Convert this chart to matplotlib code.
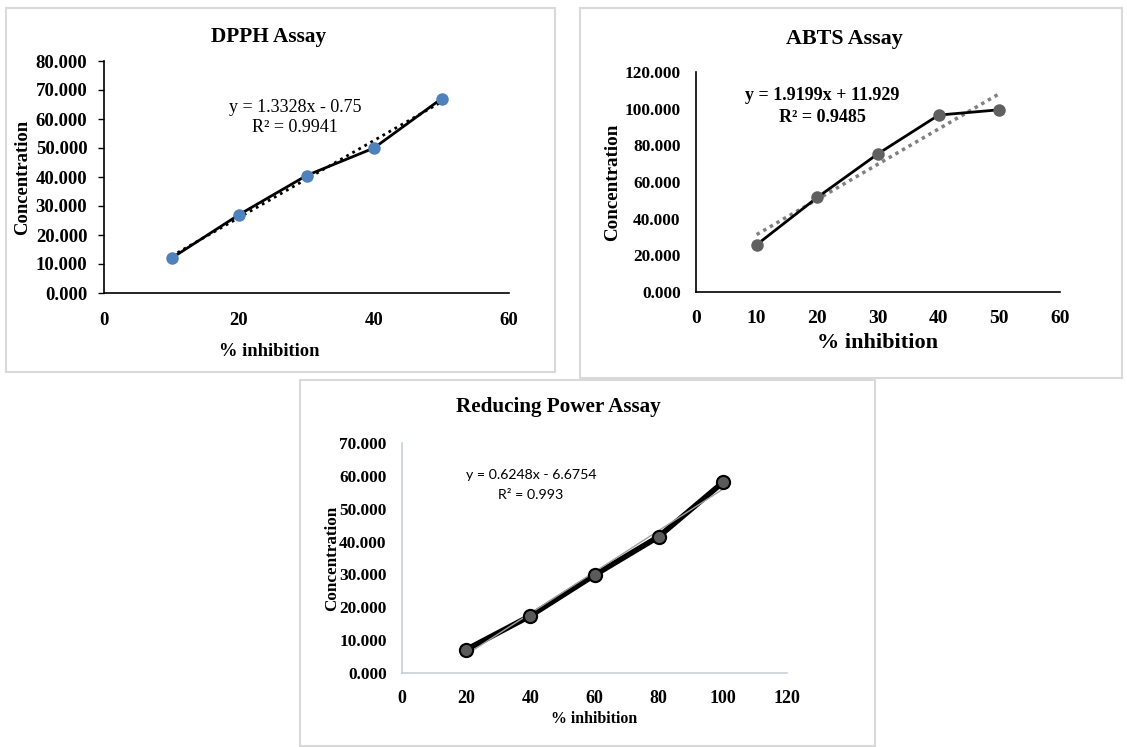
import numpy as np
import matplotlib
matplotlib.use("Agg")
import matplotlib.pyplot as plt
from matplotlib.patches import Rectangle

# ---------------- data ----------------
dpph_x = [10, 20, 30, 40, 50]
dpph_y = [12.0, 27.0, 40.5, 50.0, 67.0]
dpph_eq = ["y = 1.3328x - 0.75", "R² = 0.9941"]

abts_x = [10, 20, 30, 40, 50]
abts_y = [25.8, 51.6, 75.4, 96.5, 99.4]
abts_eq = ["y = 1.9199x + 11.929", "R² = 0.9485"]

rp_x = [20, 40, 60, 80, 100]
rp_y = [7.1, 17.4, 29.8, 41.5, 58.0]
rp_eq = ["y = 0.6248x - 6.6754", "R² = 0.993"]

dpph_yticks = [0, 10, 20, 30, 40, 50, 60, 70, 80]
dpph_xticks = [0, 20, 40, 60]
abts_yticks = [0, 20, 40, 60, 80, 100, 120]
abts_xticks = [0, 10, 20, 30, 40, 50, 60]
rp_yticks = [0, 10, 20, 30, 40, 50, 60, 70]
rp_xticks = [0, 20, 40, 60, 80, 100, 120]

W, H = 1127, 747
fig = plt.figure(figsize=(W / 100, H / 100), dpi=100)
fig.patch.set_facecolor("white")

SERIF = "Liberation Serif"


def fx(px):
    return px / W


def fy(py):
    return 1 - py / H


def add_ax(l, t, r, b):
    return fig.add_axes([fx(l), fy(b), (r - l) / W, (b - t) / H])


def border(l, t, r, b):
    fig.add_artist(Rectangle((fx(l), fy(b)), (r - l) / W, (b - t) / H,
                             transform=fig.transFigure, fill=False,
                             edgecolor="#d9d9d9", linewidth=1.5))


def trend(x, y):
    p = np.polyfit(x, y, 1)
    xs = np.array([min(x), max(x)])
    return xs, np.polyval(p, xs)


def style(ax, xt, yt, ylim, xfs, yfs, spine_col, ticklen, pad):
    ax.set_xlim(xt[0], xt[-1])
    ax.set_ylim(ylim)
    ax.set_xticks(xt)
    ax.set_yticks(yt)
    ax.set_xticklabels([str(v) for v in xt], fontfamily=SERIF,
                       fontweight="bold", fontsize=xfs)
    ax.set_yticklabels([f"{v:.3f}" for v in yt], fontfamily=SERIF,
                       fontweight="bold", fontsize=yfs)
    for s in ["top", "right"]:
        ax.spines[s].set_visible(False)
    for s in ["left", "bottom"]:
        ax.spines[s].set_color(spine_col)
        ax.spines[s].set_linewidth(1.2)
    ax.tick_params(axis="x", length=0, pad=pad[1])
    ax.tick_params(axis="y", length=ticklen, color=spine_col, width=1,
                   pad=pad[0])
    ax.set_facecolor("none")


# ---------------- panel borders ----------------
border(6, 8, 555, 372)
border(580, 8, 1122, 378)
border(300, 380, 875, 746)

# ---------------- DPPH ----------------
ax1 = add_ax(104, 61, 509, 293)
tx, ty = trend(dpph_x, dpph_y)
ax1.plot(tx, ty, color="black", linestyle=(0, (1, 1.5)), linewidth=2, zorder=2)
ax1.plot(dpph_x, dpph_y, color="black", linewidth=2, zorder=3)
ax1.plot(dpph_x, dpph_y, "o", color="#4f81bd", markersize=9, zorder=4,
         markeredgewidth=0)
style(ax1, dpph_xticks, dpph_yticks, (0, 80), 13.5, 13.5, "black", 4, (8, 14))
fig.text(fx(269), fy(37), "DPPH Assay", ha="center", va="center",
         fontfamily=SERIF, fontweight="bold", fontsize=15.3)
fig.text(fx(269), fy(352), "% inhibition", ha="center", va="center",
         fontfamily=SERIF, fontweight="bold", fontsize=13.3)
fig.text(fx(23), fy(177), "Concentration", ha="center", va="center",
         rotation=90, fontfamily=SERIF, fontweight="bold", fontsize=13.4)
fig.text(fx(295), fy(107), dpph_eq[0], ha="center", va="center",
         fontfamily=SERIF, fontsize=13)
fig.text(fx(295), fy(128), dpph_eq[1], ha="center", va="center",
         fontfamily=SERIF, fontsize=13)

# ---------------- ABTS ----------------
ax2 = add_ax(696, 72, 1060, 292)
tx, ty = trend(abts_x, abts_y)
ax2.plot(tx, ty, color="#808080", linestyle=(0, (1, 1.2)), linewidth=2.5, zorder=2)
ax2.plot(abts_x, abts_y, color="black", linewidth=2, zorder=3)
ax2.plot(abts_x, abts_y, "o", color="#606060", markersize=9, zorder=4,
         markeredgewidth=0)
style(ax2, abts_xticks, abts_yticks, (0, 120), 14, 12.4, "black", 0, (11, 13))
fig.text(fx(844), fy(39), "ABTS Assay", ha="center", va="center",
         fontfamily=SERIF, fontweight="bold", fontsize=15.8)
fig.text(fx(878), fy(343), "% inhibition", ha="center", va="center",
         fontfamily=SERIF, fontweight="bold", fontsize=16)
fig.text(fx(613), fy(182), "Concentration", ha="center", va="center",
         rotation=90, fontfamily=SERIF, fontweight="bold", fontsize=13.7)
fig.text(fx(822), fy(96), abts_eq[0], ha="center", va="center",
         fontfamily=SERIF, fontweight="bold", fontsize=13)
fig.text(fx(822), fy(117), abts_eq[1], ha="center", va="center",
         fontfamily=SERIF, fontweight="bold", fontsize=13)

# ---------------- Reducing Power ----------------
ax3 = add_ax(402, 443, 787, 673)
tx, ty = trend(rp_x, rp_y)
ax3.plot(rp_x, rp_y, color="black", linewidth=4, zorder=3)
ax3.plot(tx, ty, color="#a0a0a0", linewidth=1, zorder=4)
ax3.plot(rp_x, rp_y, "o", color="#5a5a5a", markersize=9.5, zorder=5,
         markeredgecolor="black", markeredgewidth=1.5)
style(ax3, rp_xticks, rp_yticks, (0, 70), 13, 12.4, "#c8d0dc", 0, (11, 12))
fig.text(fx(558), fy(407), "Reducing Power Assay", ha="center", va="center",
         fontfamily=SERIF, fontweight="bold", fontsize=15.2)
fig.text(fx(594), fy(719), "% inhibition", ha="center", va="center",
         fontfamily=SERIF, fontweight="bold", fontsize=11.4)
fig.text(fx(332), fy(558), "Concentration", ha="center", va="center",
         rotation=90, fontfamily=SERIF, fontweight="bold", fontsize=12.3)
fig.text(fx(531), fy(475), rp_eq[0], ha="center", va="center",
         fontfamily="Lato", fontsize=10.2)
fig.text(fx(531), fy(495), rp_eq[1], ha="center", va="center",
         fontfamily="Lato", fontsize=10.2)

fig.savefig("out.png", dpi=100, facecolor="white")
